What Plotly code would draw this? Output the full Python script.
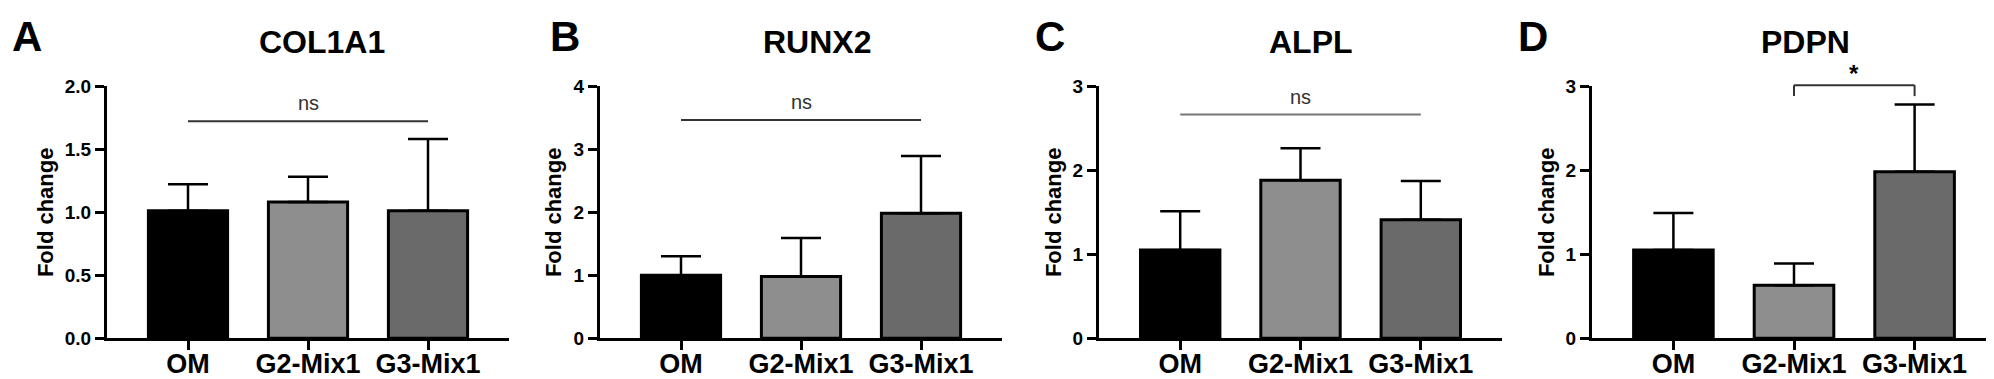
import plotly.graph_objects as go

W, H = 1994, 379

categories = ["OM", "G2-Mix1", "G3-Mix1"]
genes = ["COL1A1", "RUNX2", "ALPL", "PDPN"]
letters = ["A", "B", "C", "D"]

col1a1_mean = [1.01, 1.08, 1.01]
col1a1_sd = [0.21, 0.20, 0.57]
runx2_mean = [1.00, 0.98, 1.98]
runx2_sd = [0.30, 0.61, 0.91]
alpl_mean = [1.05, 1.88, 1.41]
alpl_sd = [0.46, 0.38, 0.46]
pdpn_mean = [1.05, 0.63, 1.98]
pdpn_sd = [0.44, 0.26, 0.80]

means = [col1a1_mean, runx2_mean, alpl_mean, pdpn_mean]
sds = [col1a1_sd, runx2_sd, alpl_sd, pdpn_sd]

y_max = [2.0, 4, 3, 3]
y_dtick = [0.5, 1, 1, 1]
y_fmt = [".1f", "d", "d", "d"]

# significance annotations: (label, from index, to index, height, leg drop)
sig = [
    ("ns", 0, 2, 1.72, 0.0),
    ("ns", 0, 2, 3.46, 0.0),
    ("ns", 0, 2, 2.66, 0.0),
    ("*", 1, 2, 3.01, 0.13),
]
sig_line_colors = ["#333333", "#333333", "#777777", "#333333"]

bar_colors = ["#000000", "#8e8e8e", "#6a6a6a"]

# layout (pixels)
x_domains_px = [(99, 501), (592, 994), (1091, 1494), (1584, 1988)]
y_bottom_px, y_top_px = 339, 72
letter_x_px = [19, 557, 1042, 1525]
ytitle_x_px = [37, 545, 1045, 1538]
title_x_px = [314, 809, 1303, 1797]

FONT = "Liberation Sans, Arial, sans-serif"

fig = go.Figure()
annotations = []
shapes = []

ydom = [1 - y_bottom_px / H, 1 - y_top_px / H]

for i in range(4):
    n = "" if i == 0 else str(i + 1)
    xa, ya = "x" + n, "y" + n
    fig.add_trace(go.Bar(
        x=categories, y=means[i], xaxis=xa, yaxis=ya,
        width=0.66,
        marker=dict(color=bar_colors, line=dict(color="black", width=3)),
        error_y=dict(type="data", symmetric=False, array=sds[i],
                     arrayminus=[0] * 3, color="black", thickness=2.5, width=20),
        showlegend=False,
    ))
    xd = [x_domains_px[i][0] / W, x_domains_px[i][1] / W]
    fig.layout["xaxis" + n] = dict(
        domain=xd, anchor=ya, range=[-0.675, 2.675],
        showline=True, linecolor="black", linewidth=3,
        ticks="outside", ticklen=9, tickwidth=3, tickcolor="black",
        ticklabelstandoff=-10,
        tickfont=dict(family=FONT, size=27, color="black", weight="bold"),
        showgrid=False, zeroline=False, fixedrange=True,
    )
    fig.layout["yaxis" + n] = dict(
        domain=ydom, anchor=xa, range=[0, y_max[i]],
        tick0=0, dtick=y_dtick[i], tickformat=y_fmt[i],
        showline=True, linecolor="black", linewidth=3,
        ticks="outside", ticklen=9, tickwidth=3, tickcolor="black",
        tickfont=dict(family=FONT, size=19, color="black", weight="bold"),
        showgrid=False, zeroline=False, fixedrange=True,
    )
    # panel letter
    annotations.append(dict(
        text=letters[i], x=letter_x_px[i] / W, y=1 - 20 / H,
        xref="paper", yref="paper", xanchor="center", yanchor="middle",
        showarrow=False, font=dict(family=FONT, size=42, color="black", weight="bold"),
    ))
    # gene title
    annotations.append(dict(
        text=genes[i], x=title_x_px[i] / W, y=1 - 25 / H,
        xref="paper", yref="paper", xanchor="center", yanchor="middle",
        showarrow=False, font=dict(family=FONT, size=32, color="black", weight="bold"),
    ))
    # y axis title
    annotations.append(dict(
        text="Fold change", x=ytitle_x_px[i] / W, y=(ydom[0] + ydom[1]) / 2,
        xref="paper", yref="paper", xanchor="center", yanchor="middle",
        textangle=-90, showarrow=False,
        font=dict(family=FONT, size=22, color="black", weight="bold"),
    ))
    # significance
    label, a, b, h, drop = sig[i]
    ydref = ya + " domain"
    top = h / y_max[i]
    if drop > 0:
        pts = [(a, top - drop / y_max[i]), (a, top), (b, top), (b, top - drop / y_max[i])]
        for (p0, p1) in zip(pts[:-1], pts[1:]):
            shapes.append(dict(type="line", xref=xa, yref=ydref,
                               x0=categories[p0[0]], x1=categories[p1[0]],
                               y0=p0[1], y1=p1[1],
                               line=dict(color=sig_line_colors[i], width=2)))
        annotations.append(dict(
            text=label, x=(a + b) / 2, y=top, xref=xa, yref=ydref,
            xanchor="center", yanchor="middle", yshift=12, showarrow=False,
            font=dict(family=FONT, size=24, color="black", weight="bold"),
        ))
    else:
        shapes.append(dict(type="line", xref=xa, yref=ya,
                           x0=categories[a], x1=categories[b], y0=h, y1=h,
                           line=dict(color=sig_line_colors[i], width=2)))
        annotations.append(dict(
            text=label, x=(a + b) / 2, y=h, xref=xa, yref=ya,
            xanchor="center", yanchor="middle", yshift=18, showarrow=False,
            font=dict(family=FONT, size=20, color="#333333"),
        ))

fig.update_layout(
    width=W, height=H,
    margin=dict(l=0, r=0, t=0, b=0),
    paper_bgcolor="white", plot_bgcolor="white",
    annotations=annotations, shapes=shapes,
    font=dict(family=FONT),
)

fig.write_html("out.html")
